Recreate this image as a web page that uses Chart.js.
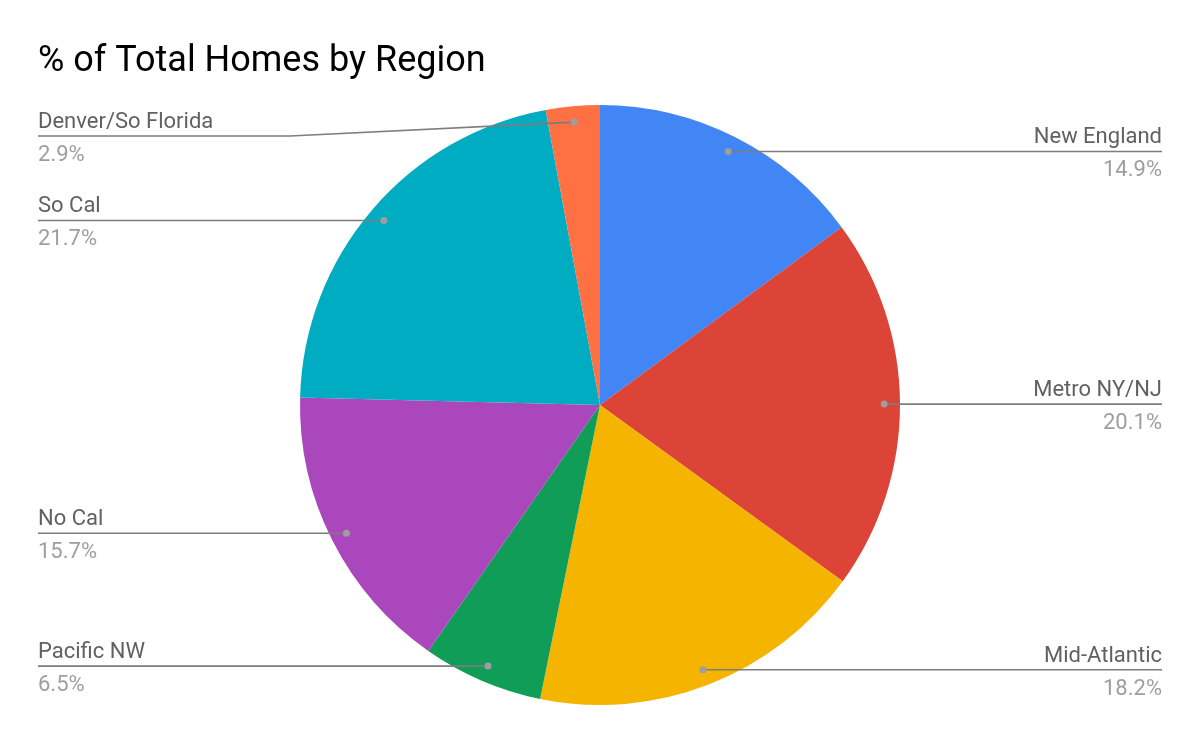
<!DOCTYPE html>
<html>
<head>
<meta charset="utf-8">
<script src="https://cdn.jsdelivr.net/npm/chart.js@4.4.1/dist/chart.umd.min.js"></script>
<style>
  html, body { margin: 0; padding: 0; background: #fff; }
  #wrap { width: 1200px; height: 742px; }
</style>
</head>
<body>
<div id="wrap"><canvas id="chart"></canvas></div>
<script>
const regions = ['New England', 'Metro NY/NJ', 'Mid-Atlantic', 'Pacific NW', 'No Cal', 'So Cal', 'Denver/So Florida'];
const shares = [14.9, 20.1, 18.2, 6.5, 15.7, 21.7, 2.9];
const sliceColors = ['#4285F4', '#DB4437', '#F4B400', '#0F9D58', '#AB47BC', '#00ACC1', '#FF7043'];

// leader lines + labels, google sheets style
const sideLabels = {
  id: 'sideLabels',
  afterDatasetsDraw(chart) {
    const ctx = chart.ctx;
    const area = chart.chartArea;
    const meta = chart.getDatasetMeta(0);
    const total = shares.reduce((a, b) => a + b, 0);
    meta.data.forEach((arc, i) => {
      const p = arc.getProps(['x', 'y', 'startAngle', 'endAngle', 'outerRadius'], true);
      const mid = (p.startAngle + p.endAngle) / 2;
      const r = p.outerRadius * 0.947;
      const dx = p.x + Math.cos(mid) * r;
      const dy = p.y + Math.sin(mid) * r;
      const right = Math.cos(mid) >= 0;
      let ly = Math.max(dy, area.top + 31);
      const edge = right ? 1162 : 38;

      ctx.save();
      ctx.strokeStyle = '#7d7d7d';
      ctx.lineWidth = 1.6;
      ctx.beginPath();
      ctx.moveTo(dx, dy);
      if (Math.abs(ly - dy) > 1) {
        const bx = right ? p.x + p.outerRadius + 10 : p.x - p.outerRadius - 10;
        ctx.lineTo(bx, ly);
      }
      ctx.lineTo(edge, ly);
      ctx.stroke();

      ctx.fillStyle = '#9e9e9e';
      ctx.beginPath();
      ctx.arc(dx, dy, 3.5, 0, Math.PI * 2);
      ctx.fill();

      ctx.textAlign = right ? 'right' : 'left';
      ctx.textBaseline = 'alphabetic';
      ctx.font = '22px Roboto';
      ctx.fillStyle = '#616161';
      ctx.fillText(regions[i], edge, ly - 8);
      ctx.fillStyle = '#9e9e9e';
      ctx.fillText((shares[i] / total * 100).toFixed(1) + '%', edge, ly + 25);
      ctx.restore();
    });
  }
};

new Chart(document.getElementById('chart'), {
  type: 'pie',
  data: {
    labels: regions,
    datasets: [{
      data: shares,
      backgroundColor: sliceColors,
      borderWidth: 0,
      hoverOffset: 0,
      offset: 0
    }]
  },
  options: {
    responsive: true,
    maintainAspectRatio: false,
    animation: false,
    events: [],
    layout: {
      padding: { left: 38, right: 38, top: 0, bottom: 37 }
    },
    plugins: {
      legend: { display: false },
      tooltip: { enabled: false },
      title: {
        display: true,
        text: '% of Total Homes by Region',
        align: 'start',
        color: '#000',
        font: { family: 'Roboto', size: 36, weight: 'normal', lineHeight: 1.2 },
        padding: { top: 40, bottom: 21.8 }
      }
    }
  },
  plugins: [sideLabels]
});
</script>
</body>
</html>
